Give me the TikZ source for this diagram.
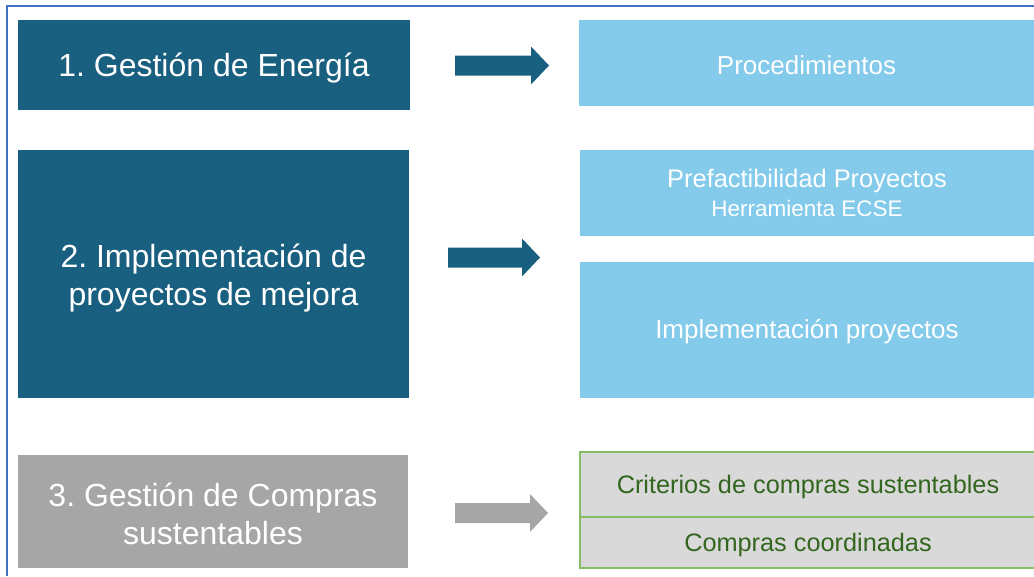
\documentclass[tikz,border=0pt]{standalone}
\usepackage{fontspec}
\setmainfont{Liberation Sans}
\frenchspacing
\definecolor{dkblue}{HTML}{185F80}
\definecolor{ltblue}{HTML}{83CAEB}
\definecolor{grayc}{HTML}{A6A6A6}
\definecolor{lgray}{HTML}{D9D9D9}
\definecolor{grnline}{HTML}{86BC64}
\definecolor{grntext}{HTML}{33661E}
\definecolor{framec}{HTML}{4472C4}
\newcommand\blockarrow[4]{%
  \fill[#4] (#1,#2-10) -- ++(#3,0) -- ++(0,-9) -- ++(18,19) -- ++(-18,19) -- ++(0,-9) -- ++(-#3,0) -- cycle;}
\begin{document}
\begin{tikzpicture}[x=1pt,y=-1pt,
  base/.style={rectangle, inner sep=0pt, outer sep=0pt, align=center},
  lbox/.style={base},
  ltxt/.style={base, text=white, font=\fontsize{32}{38.4}\selectfont},
  rbox/.style={base, fill=ltblue},
  rtxt/.style={base, text=white, font=\fontsize{26}{31}\selectfont},
  gbox/.style={base, fill=lgray, draw=grnline, line width=1.2pt},
  gtxt/.style={base, text=grntext, font=\fontsize{25.3}{30}\selectfont}]
\useasboundingbox (0,0) rectangle (1034,576);
\draw[framec, line width=2pt] (6.5,576) -- (6.5,5.5) -- (1034,5.5);
% left boxes
\node[lbox, fill=dkblue, minimum width=392pt, minimum height=90pt] (b1) at (214,65) {};
\node[lbox, fill=dkblue, minimum width=391pt, minimum height=248pt] (b2) at (213.5,274) {};
\node[lbox, fill=grayc, minimum width=390pt, minimum height=113pt] (b3) at (213,511.5) {};
\node[ltxt] (b1t) at ([yshift=-3pt]b1.center) {1. Gestión de Energía};
\node[ltxt] (b2t) at ([yshift=-4pt]b2.center) {2. Implementación de\\proyectos de mejora};
\node[ltxt] (b3t) at ([yshift=-2.5pt]b3.center) {3. Gestión de Compras\\sustentables};
% right boxes
\node[rbox, minimum width=455pt, minimum height=86pt] (r1) at (806.5,63) {};
\node[rbox, minimum width=454pt, minimum height=86pt] (r2) at (807,193) {};
\node[rbox, minimum width=454pt, minimum height=136pt] (r3) at (807,330) {};
\node[gbox, minimum width=456pt, minimum height=65pt] (g1) at (808,484.5) {};
\node[gbox, minimum width=456pt, minimum height=51pt] (g2) at (808,542.5) {};
\node[rtxt] (r1t) at ([yshift=-2pt]r1.center) {Procedimientos};
\node[rtxt, font=\fontsize{25.4}{29}\selectfont] (r2t) at (r2.center) {Prefactibilidad Proyectos\\{\fontsize{22.5}{29}\selectfont Herramienta ECSE}};
\node[rtxt] (r3t) at ([yshift=-2pt]r3.center) {Implementación proyectos};
\node[gtxt] (g1t) at ([yshift=-2pt]g1.center) {Criterios de compras sustentables};
\node[gtxt] (g2t) at ([yshift=-2.5pt]g2.center) {Compras coordinadas};
% block arrows
\blockarrow{455}{65.5}{76}{dkblue}
\blockarrow{448}{257.5}{74}{dkblue}
\blockarrow{455}{513}{75}{grayc}
\end{tikzpicture}
\end{document}
